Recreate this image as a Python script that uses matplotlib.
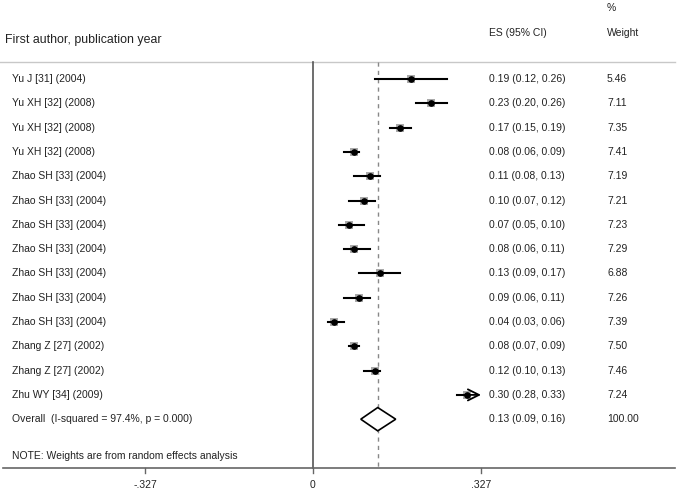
import matplotlib.pyplot as plt
import numpy as np

plt.rcParams['font.family'] = ['Liberation Sans', 'DejaVu Sans']

# study rows
studies = ["Yu J [31] (2004)", "Yu XH [32] (2008)", "Yu XH [32] (2008)", "Yu XH [32] (2008)",
           "Zhao SH [33] (2004)", "Zhao SH [33] (2004)", "Zhao SH [33] (2004)", "Zhao SH [33] (2004)",
           "Zhao SH [33] (2004)", "Zhao SH [33] (2004)", "Zhao SH [33] (2004)",
           "Zhang Z [27] (2002)", "Zhang Z [27] (2002)", "Zhu WY [34] (2009)"]
es = [0.19, 0.23, 0.17, 0.08, 0.11, 0.10, 0.07, 0.08, 0.13, 0.09, 0.04, 0.08, 0.12, 0.30]
lo = [0.12, 0.20, 0.15, 0.06, 0.08, 0.07, 0.05, 0.06, 0.09, 0.06, 0.03, 0.07, 0.10, 0.28]
hi = [0.26, 0.26, 0.19, 0.09, 0.13, 0.12, 0.10, 0.11, 0.17, 0.11, 0.06, 0.09, 0.13, 0.33]
weight = [5.46, 7.11, 7.35, 7.41, 7.19, 7.21, 7.23, 7.29, 6.88, 7.26, 7.39, 7.50, 7.46, 7.24]

overall_label = "Overall  (I-squared = 97.4%, p = 0.000)"
overall_es, overall_lo, overall_hi = 0.126, 0.093, 0.161
overall_w = 100.00

xticks = [-0.327, 0, 0.327]
xticklabels = ["-.327", "0", ".327"]
xmax = 0.327

# figure pixel -> data mapping (zero line at px 313, 0.327 = 168 px)
W, H, dpi = 679, 492, 100
ppu = 168 / 0.327
x0 = 313
row0, rowh = 79, 24.3
es_col, w_col = 489, 607
fs = 7.5
tc = '#222222'

fig = plt.figure(figsize=(W / dpi, H / dpi), dpi=dpi)
ax = fig.add_axes([0, 0, 1, 1])
ax.set_xlim(-x0 / ppu, (W - x0) / ppu)
ax.set_ylim((H - row0) / rowh, -row0 / rowh)
ax.axis('off')

def px(p):
    return (p - x0) / ppu

def py(p):
    return (p - row0) / rowh

top = py(61.5)
bot = py(467.5)
n = len(studies)

# header
ax.text(px(5), py(40), "First author, publication year", fontsize=8.9, va='center', ha='left', color=tc)
ax.text(px(es_col), py(33), "ES (95% CI)", fontsize=fs, va='center', ha='left', color=tc)
ax.text(px(w_col), py(8), "%", fontsize=fs, va='center', ha='left', color=tc)
ax.text(px(w_col), py(33), "Weight", fontsize=fs, va='center', ha='left', color=tc)
ax.plot([px(0), px(675)], [top, top], color='#c8c8c8', lw=1)

# reference lines
ax.plot([0, 0], [top, bot], color='#555555', lw=1.2)
ax.plot([overall_es, overall_es], [top, bot], color='#888888', lw=1, ls=(0, (3, 3)))

for i in range(n):
    ax.text(px(12), i, studies[i], fontsize=fs, va='center', ha='left', color=tc)
    ax.text(px(es_col), i, "%.2f (%.2f, %.2f)" % (es[i], lo[i], hi[i]), fontsize=fs, va='center', ha='left', color=tc)
    ax.text(px(w_col), i, "%.2f" % weight[i], fontsize=fs, va='center', ha='left', color=tc)
    ax.scatter(es[i], i, marker='s', s=weight[i] * 5.5, color='#aaaaaa', zorder=2, linewidths=0)
    if hi[i] > xmax:
        ax.plot([lo[i], es[i]], [i, i], color='black', lw=1.5, zorder=3)
        ax.annotate("", xy=(xmax, i), xytext=(es[i], i),
                    arrowprops=dict(arrowstyle='->', color='black', lw=1.3, mutation_scale=20,
                                    shrinkA=0, shrinkB=0), zorder=3)
    else:
        ax.plot([lo[i], hi[i]], [i, i], color='black', lw=1.5, zorder=3)
    ax.plot(es[i], i, 'o', color='black', ms=3.8, zorder=4)

# overall diamond
yo = n
dh = 0.48
ax.fill([overall_lo, overall_es, overall_hi, overall_es, overall_lo],
        [yo, yo - dh, yo, yo + dh, yo], facecolor='white', edgecolor='black', lw=1.2, zorder=3)
ax.text(px(12), yo, overall_label, fontsize=fs, va='center', ha='left', color=tc)
ax.text(px(es_col), yo, "%.2f (%.2f, %.2f)" % (overall_es, overall_lo, overall_hi), fontsize=fs, va='center', ha='left', color=tc)
ax.text(px(w_col), yo, "%.2f" % overall_w, fontsize=fs, va='center', ha='left', color=tc)

ax.text(px(12), py(456), "NOTE: Weights are from random effects analysis", fontsize=fs, va='center', ha='left', color=tc)

# bottom axis
ax.plot([px(3), px(675)], [bot, bot], color='#666666', lw=1.2)
for t, lab in zip(xticks, xticklabels):
    ax.plot([t, t], [bot, py(473)], color='#666666', lw=1)
    ax.text(t, py(485), lab, fontsize=fs, ha='center', va='center', color=tc)

fig.savefig("out.png", dpi=dpi)
